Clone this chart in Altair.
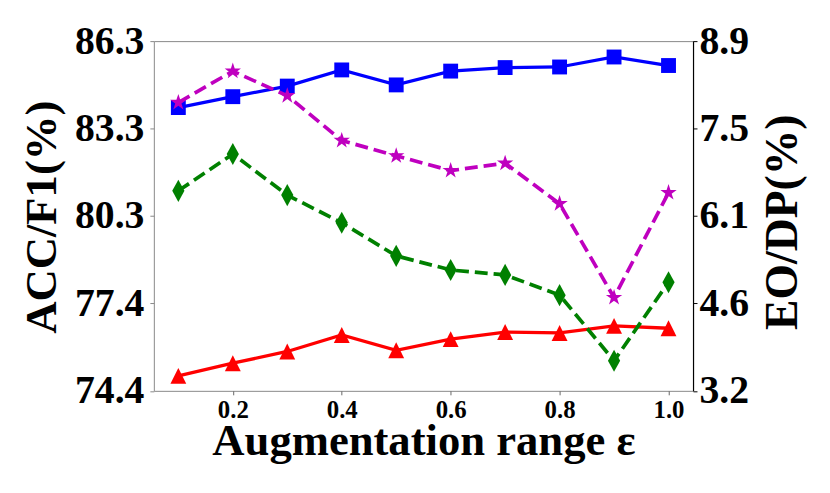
import math
import altair as alt
import pandas as pd

# ---------------- data ----------------
eps = [0.1, 0.2, 0.3, 0.4, 0.5, 0.6, 0.7, 0.8, 0.9, 1.0]
acc = [84.04, 84.41, 84.77, 85.32, 84.81, 85.28, 85.40, 85.42, 85.76, 85.47]
f1 = [74.91, 75.34, 75.74, 76.30, 75.78, 76.16, 76.40, 76.37, 76.61, 76.53]
eo = [7.90, 8.41, 8.01, 7.28, 7.03, 6.79, 6.91, 6.25, 4.72, 6.43]
dp = [6.46, 7.06, 6.39, 5.94, 5.40, 5.17, 5.09, 4.76, 3.69, 4.97]

series_names = ["ACC", "F1", "EO", "DP"]
series_colors = ["#0000ff", "#ff0000", "#bf00bf", "#008000"]

x_ticks = [0.2, 0.4, 0.6, 0.8, 1.0]
left_ticks = [74.4, 77.375, 80.35, 83.325, 86.3]
left_labels = ["74.4", "77.4", "80.3", "83.3", "86.3"]
right_ticks = [3.2, 4.625, 6.05, 7.475, 8.9]
right_labels = ["3.2", "4.6", "6.1", "7.5", "8.9"]


def long_df(pairs):
    rows = []
    for name, vals in pairs:
        for e, v in zip(eps, vals):
            rows.append({"eps": e, "value": v, "series": name})
    return pd.DataFrame(rows)


df_left = long_df([("ACC", acc), ("F1", f1)])
df_right = long_df([("EO", eo), ("DP", dp)])


def label_expr(ticks, labels):
    expr = "''"
    for t, l in reversed(list(zip(ticks, labels))):
        expr = f"abs(datum.value - {t}) < 0.01 ? '{l}' : ({expr})"
    return expr


# marker shapes (unit coordinates)
tri_path = "M0,-1L-1,1L1,1Z"
diamond_path = "M0,-1L0.55,0L0,1L-0.55,0Z"
star_pts = []
for k in range(10):
    r = 1.0 if k % 2 == 0 else 0.382
    a = math.radians(-90 + 36 * k)
    star_pts.append(f"{r*math.cos(a):.4f},{r*math.sin(a):.4f}")
star_path = "M" + "L".join(star_pts) + "Z"

FONT = "Liberation Serif"

cscale = alt.Scale(domain=series_names, range=series_colors)
xscale = alt.Scale(domain=[0.055, 1.045], nice=False, zero=False)
xaxis = alt.Axis(values=x_ticks, format=".1f", title="Augmentation range ε",
                 labelFontSize=25, titleFontSize=45, tickSize=4, labelPadding=3,
                 tickColor="#666666", domain=False, titleY=64,
                 titleBaseline="alphabetic")

left_axis = alt.Axis(values=left_ticks, labelExpr=label_expr(left_ticks, left_labels),
                     title="ACC/F1(%)", labelFontSize=40, titleFontSize=45,
                     tickSize=4, labelPadding=6, tickColor="#888888", domain=False,
                     titleAngle=270, titleX=-99, titleY=177,
                     titleBaseline="alphabetic")
right_axis = alt.Axis(values=right_ticks, labelExpr=label_expr(right_ticks, right_labels),
                      orient="right", title="EO/DP(%)", labelFontSize=40,
                      titleFontSize=46, tickSize=4, labelPadding=2,
                      tickColor="#000000", domain=True, domainColor="#000000",
                      domainWidth=1.2, titleAngle=270, titleX=104, titleY=182,
                      titleBaseline="alphabetic")

left_y = alt.Y("value:Q", scale=alt.Scale(domain=[74.4, 86.3], nice=False, zero=False),
               axis=left_axis)
right_y = alt.Y("value:Q", scale=alt.Scale(domain=[3.2, 8.9], nice=False, zero=False),
                axis=right_axis)


def series_chart(df, name, yenc, shape, size, dash=None):
    base = alt.Chart(df).transform_filter(alt.datum.series == name).encode(
        x=alt.X("eps:Q", scale=xscale, axis=xaxis),
        y=yenc,
        color=alt.Color("series:N", scale=cscale, legend=None),
    )
    if dash:
        line = base.mark_line(strokeWidth=3.7, strokeDash=dash)
    else:
        line = base.mark_line(strokeWidth=3.3)
    pts = base.mark_point(filled=True, opacity=1, shape=shape, size=size, strokeWidth=0)
    return line + pts


left = alt.layer(
    series_chart(df_left, "ACC", left_y, "square", 225),
    series_chart(df_left, "F1", left_y, tri_path, 256),
)
right = alt.layer(
    series_chart(df_right, "EO", right_y, star_path, 300, [13, 6]),
    series_chart(df_right, "DP", right_y, diamond_path, 500, [13, 6]),
)

chart = (
    alt.layer(left, right)
    .resolve_scale(y="independent")
    .properties(
        width=543.5,
        height=352.5,
        padding={"left": 147, "top": 31.5, "right": 130, "bottom": 90},
        autosize=alt.AutoSizeParams(type="none"),
        background="white",
    )
    .configure_view(stroke="#888888", strokeWidth=1)
    .configure_axis(
        grid=False,
        labelFont=FONT,
        labelFontWeight="bold",
        labelColor="#000000",
        titleFont=FONT,
        titleFontWeight="bold",
        titleColor="#000000",
    )
)

chart.save("out.html", embed_options={"renderer": "svg", "actions": False})
